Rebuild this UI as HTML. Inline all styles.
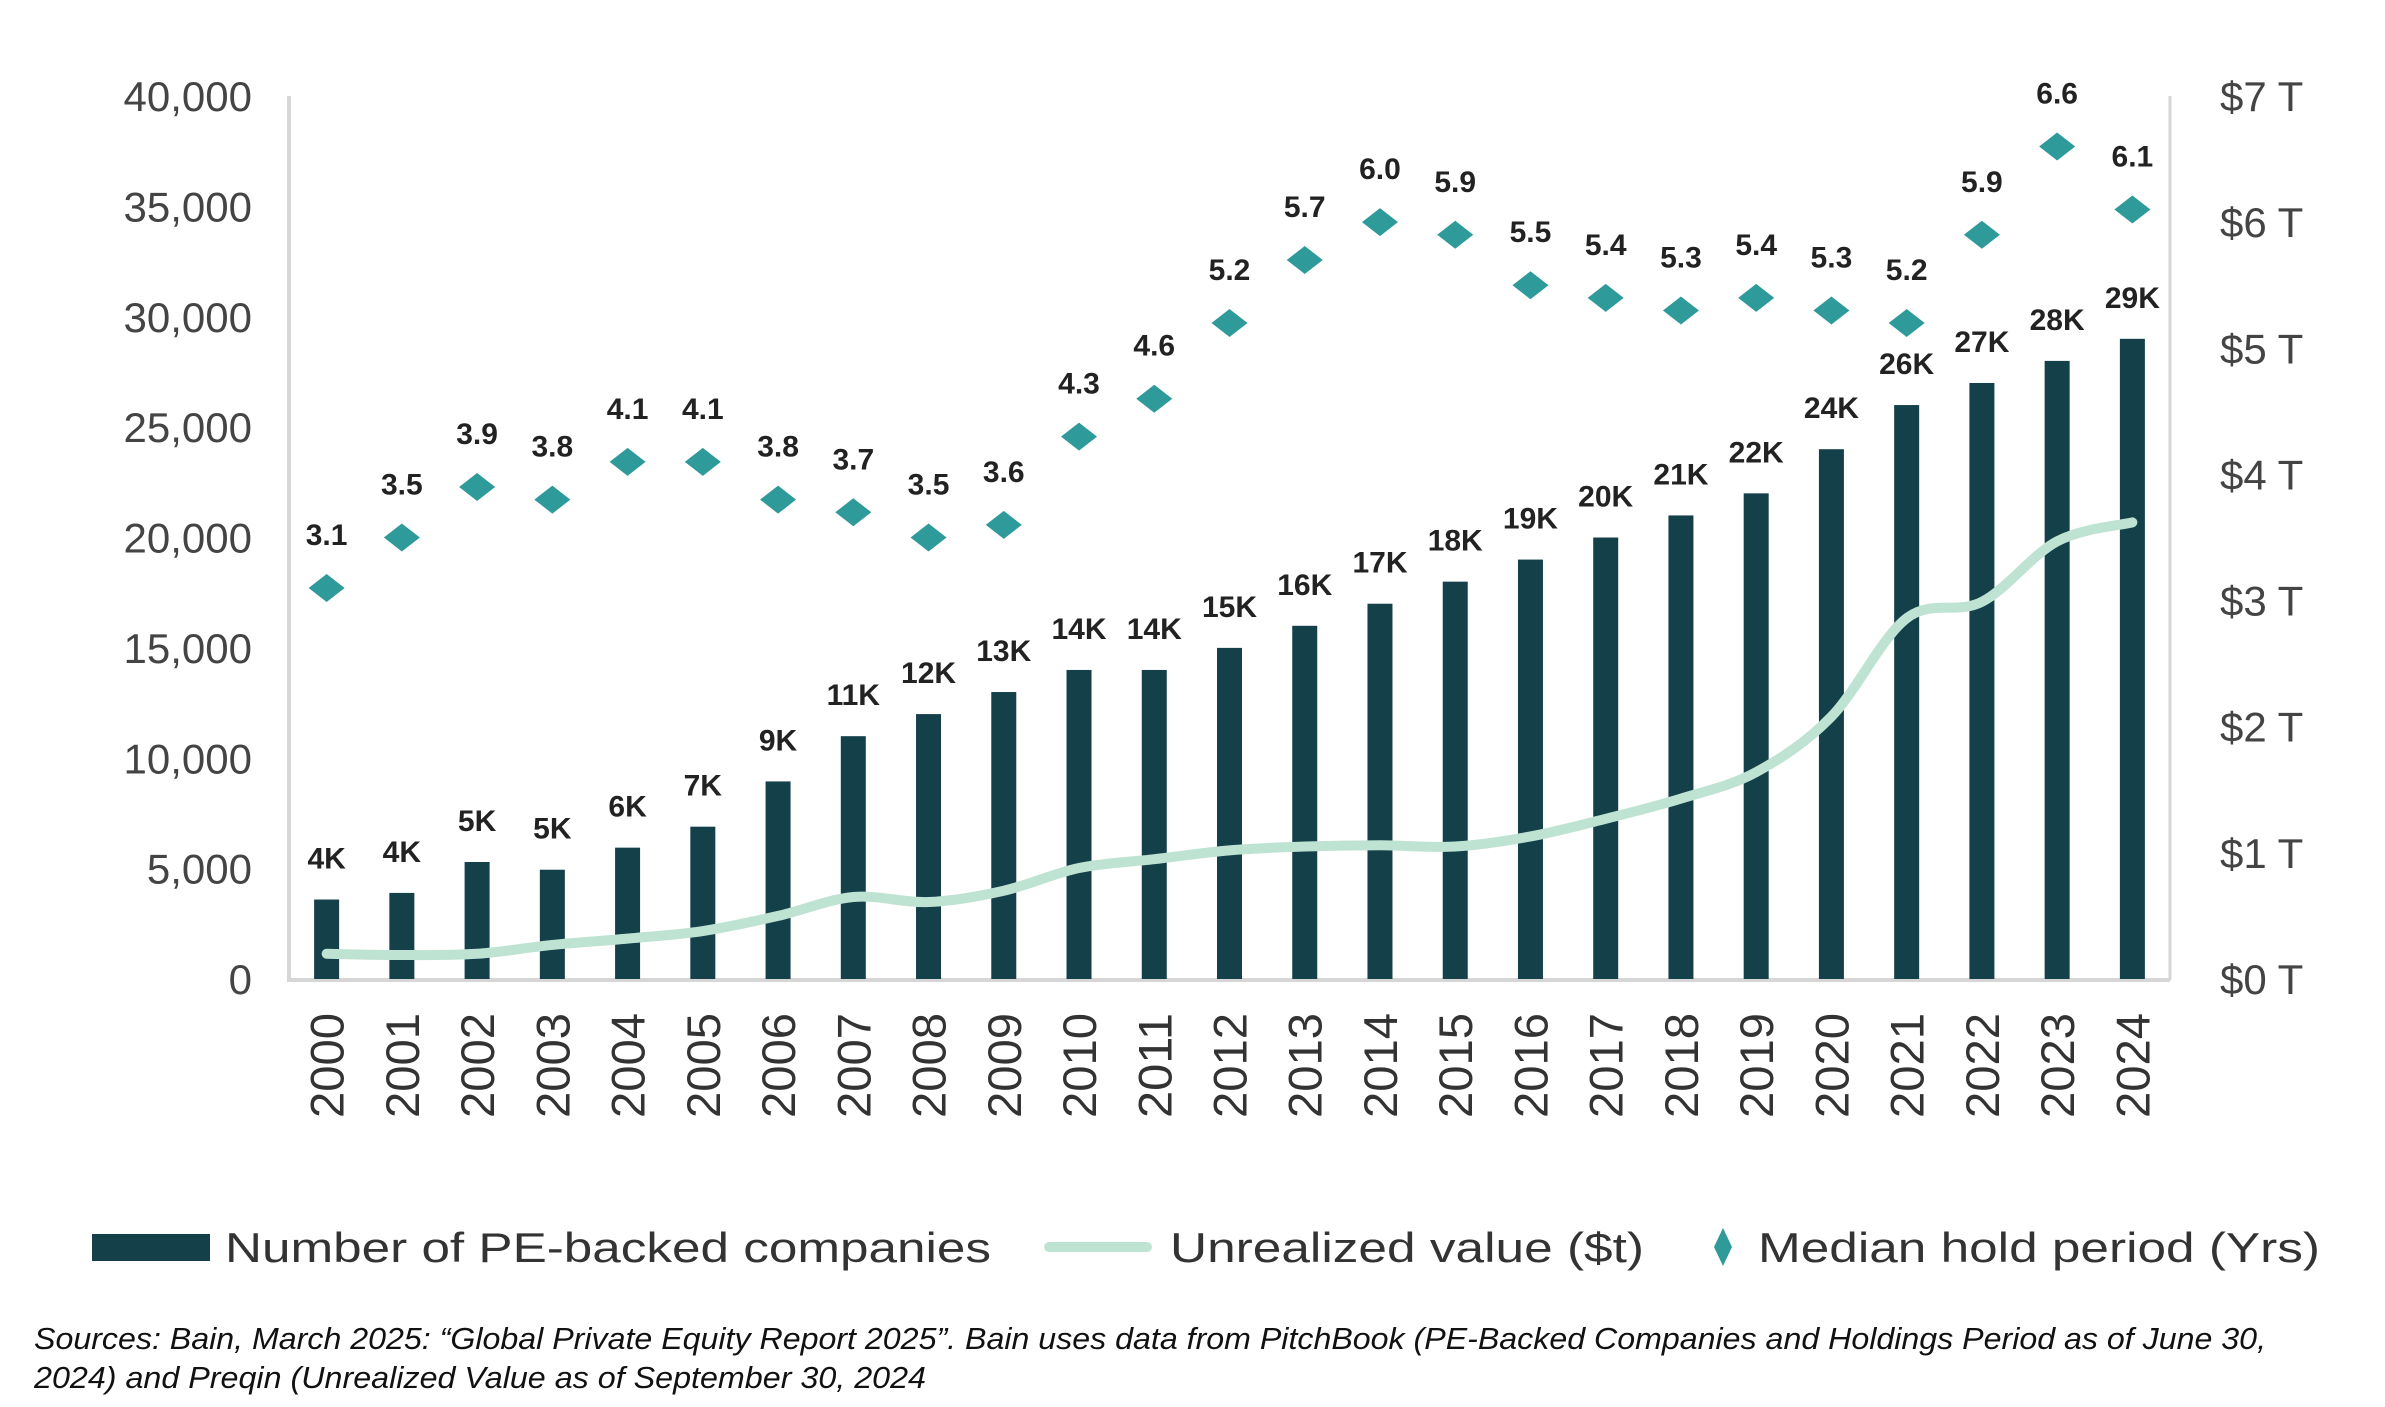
<!DOCTYPE html>
<html><head><meta charset="utf-8"><style>
html,body{margin:0;padding:0;background:#fff;}
svg{display:block;font-family:"Liberation Sans",sans-serif;}
</style></head><body>
<svg id="chart" width="2385" height="1407" viewBox="0 0 2385 1407" xmlns="http://www.w3.org/2000/svg">
<g id="grid"></g>
<g id="bars"></g>
<g id="line"></g>
<g id="diamonds"></g>
<g id="labels"></g>
<g id="legend">
  <rect x="92" y="1234" width="118" height="27" fill="#14404a"/>
  <text x="225" y="1262" font-size="42" fill="#333" textLength="766" lengthAdjust="spacingAndGlyphs">Number of PE-backed companies</text>
  <line x1="1049" y1="1247" x2="1147" y2="1247" stroke="#bfe3d3" stroke-width="10" stroke-linecap="round"/>
  <text x="1170" y="1262" font-size="42" fill="#333" textLength="474" lengthAdjust="spacingAndGlyphs">Unrealized value ($t)</text>
  <path d="M1723 1228 L1732 1247 L1723 1266 L1714 1247 Z" fill="#2e9a9a"/>
  <text x="1758" y="1262" font-size="42" fill="#333" textLength="562" lengthAdjust="spacingAndGlyphs">Median hold period (Yrs)</text>
</g>
<g font-style="italic" font-size="31" fill="#111">
  <text x="34" y="1349" textLength="2232" lengthAdjust="spacingAndGlyphs">Sources: Bain, March 2025: “Global Private Equity Report 2025”. Bain uses data from PitchBook  (PE-Backed Companies and Holdings Period as of June 30,</text>
  <text x="34" y="1388" textLength="892" lengthAdjust="spacingAndGlyphs">2024) and Preqin (Unrealized Value as of September 30, 2024</text>
</g>
</svg>
<script>
const years = ["2000","2001","2002","2003","2004","2005","2006","2007","2008","2009","2010","2011","2012","2013","2014","2015","2016","2017","2018","2019","2020","2021","2022","2023","2024"];
const companies = [3600,3900,5300,4950,5950,6900,8950,11000,12000,13000,14000,14000,15000,16000,17000,18000,19000,20000,21000,22000,24000,26000,27000,28000,29000];
const companyLabels = ["4K","4K","5K","5K","6K","7K","9K","11K","12K","13K","14K","14K","15K","16K","17K","18K","19K","20K","21K","22K","24K","26K","27K","28K","29K"];
const unrealized = [0.2,0.19,0.2,0.27,0.32,0.38,0.5,0.65,0.61,0.7,0.88,0.95,1.02,1.05,1.06,1.05,1.13,1.27,1.43,1.64,2.08,2.86,2.99,3.47,3.62];
const holdPeriod = [3.1,3.5,3.9,3.8,4.1,4.1,3.8,3.7,3.5,3.6,4.3,4.6,5.2,5.7,6.0,5.9,5.5,5.4,5.3,5.4,5.3,5.2,5.9,6.6,6.1];
const leftTicks = [0,5000,10000,15000,20000,25000,30000,35000,40000];
const leftTickLabels = ["0","5,000","10,000","15,000","20,000","25,000","30,000","35,000","40,000"];
const rightTicks = [0,1,2,3,4,5,6,7];
const rightTickLabels = ["$0 T","$1 T","$2 T","$3 T","$4 T","$5 T","$6 T","$7 T"];

const NS="http://www.w3.org/2000/svg";
const X0=289, X1=2170, YTOP=96, YBOT=979;
const band=(X1-X0)/years.length;
const xc=i=>X0+band*(i+0.5);
const yL=v=>YBOT-(v/40000)*(YBOT-YTOP);
const yR=v=>YBOT-(v/7)*(YBOT-YTOP);
function mk(tag,attrs,parent,text){const e=document.createElementNS(NS,tag);for(const k in attrs)e.setAttribute(k,attrs[k]);if(text!==undefined)e.textContent=text;parent.appendChild(e);return e;}
const grid=document.getElementById('grid');
let ax=mk('line',{x1:X0,y1:YTOP,x2:X0,y2:YBOT+1,stroke:'#d6d6d6','stroke-width':4},grid);


ax=mk('line',{x1:X1,y1:YTOP,x2:X1,y2:YBOT+1,stroke:'#d6d6d6','stroke-width':3},grid);


ax=mk('line',{x1:X0-2,y1:YBOT+1,x2:X1,y2:YBOT+1,stroke:'#d6d6d6','stroke-width':4},grid);


leftTicks.forEach((v,i)=>{
  const t=mk('text',{x:252,y:yL(v)+15,'font-size':42,fill:'#444','text-anchor':'end'},grid,leftTickLabels[i]);
  
  
});
rightTicks.forEach((v,i)=>{
  const t=mk('text',{x:2220,y:yR(v)+15,'font-size':42,fill:'#444'},grid,rightTickLabels[i]);
  
  
});
years.forEach((y,i)=>{
  const t=mk('text',{transform:`translate(${xc(i)+17},1013) rotate(-90)`,'font-size':47,fill:'#333','text-anchor':'end',textLength:105,lengthAdjust:'spacingAndGlyphs'},grid,y);
  
  
});
const bars=document.getElementById('bars'), labels=document.getElementById('labels');
companies.forEach((v,i)=>{
  const r=mk('rect',{x:xc(i)-12.5,y:yL(v),width:25,height:YBOT-yL(v),fill:'#14404a'},bars);
  
  
  const t=mk('text',{x:xc(i),y:yL(v)-31,'font-size':30,'font-weight':'bold',fill:'#222','text-anchor':'middle'},labels,companyLabels[i]);
  
  
});
const pts=unrealized.map((v,i)=>[xc(i),yR(v)]);
let d=`M${pts[0][0]},${pts[0][1]}`;
for(let i=0;i<pts.length-1;i++){
  const p0=pts[Math.max(0,i-1)],p1=pts[i],p2=pts[i+1],p3=pts[Math.min(pts.length-1,i+2)];
  const c1=[p1[0]+(p2[0]-p0[0])/6,p1[1]+(p2[1]-p0[1])/6];
  const c2=[p2[0]-(p3[0]-p1[0])/6,p2[1]-(p3[1]-p1[1])/6];
  d+=` C${c1[0]},${c1[1]} ${c2[0]},${c2[1]} ${p2[0]},${p2[1]}`;
}
const ln=mk('path',{d:d,fill:'none',stroke:'#bfe3d3','stroke-width':10,'stroke-linecap':'round','stroke-linejoin':'round'},document.getElementById('line'));


const dg=document.getElementById('diamonds');
holdPeriod.forEach((v,i)=>{
  const x=xc(i),y=yR(v);
  const p=mk('path',{d:`M${x} ${y-14} L${x+18} ${y} L${x} ${y+14} L${x-18} ${y} Z`,fill:'#2e9a9a'},dg);
  
  
  const t=mk('text',{x:x,y:y-43,'font-size':30,'font-weight':'bold',fill:'#222','text-anchor':'middle'},labels,v.toFixed(1));
  
  
});
</script>
</body></html>
